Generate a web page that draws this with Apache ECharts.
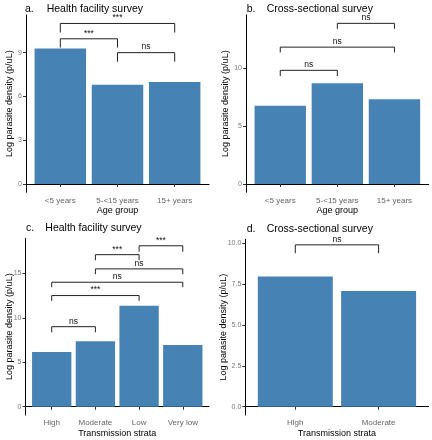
<!DOCTYPE html>
<html><head><meta charset="utf-8">
<script src="https://cdn.jsdelivr.net/npm/echarts@6/dist/echarts.min.js"></script>
<style>html,body{margin:0;padding:0;background:#fff}#c{width:432px;height:440px}</style>
</head><body><div id="c"></div><script>
const ageGroups = ['<5 years', '5-<15 years', '15+ years'];
const strata = ['High', 'Moderate', 'Low', 'Very low'];
const strataD = ['High', 'Moderate'];
const valuesA = [9.28, 6.80, 6.99];
const valuesB = [6.75, 8.68, 7.30];
const valuesC = [6.15, 7.35, 11.35, 6.93];
const valuesD = [7.96, 7.08];
const ticksA = [0, 3, 6, 9];
const ticksB = [0, 5, 10];
const ticksC = [0, 5, 10, 15];
const ticksD = [0, 2.5, 5, 7.5, 10];
// brackets: [from category (1-based), to category, height, tip length, label]
const bracketsA = [[1, 3, 11.0, 0.62, '***'], [1, 2, 9.95, 0.6, '***'], [2, 3, 9.0, 0.62, 'ns']];
const bracketsB = [[2, 3, 13.85, 0.47, 'ns'], [1, 3, 11.8, 0.46, 'ns'], [1, 2, 9.8, 0.49, 'ns']];
const bracketsC = [[3, 4, 18.1, 0.67, '***'], [2, 3, 17.1, 0.63, '***'], [2, 4, 15.5, 0.6, 'ns'], [1, 4, 14.0, 0.56, 'ns'], [1, 3, 12.5, 0.6, '***'], [1, 2, 9.0, 0.63, 'ns']];
const bracketsD = [[1, 2, 9.9, 0.51, 'ns']];

const FONT = 'Liberation Sans, Arial, Helvetica, sans-serif';
const panels = [
  {cats: ageGroups, vals: valuesA, ticks: ticksA, br: bracketsA, grid: {left: 26, top: 15, width: 183, height: 177.3}, ymin: -0.57, ymax: 11.58, xname: 'Age group', tag: 'a.', title: 'Health facility survey', tagX: 25, titleX: 46.7, titleY: 9, nameGap: 11.7, fmt: v => String(v)},
  {cats: ageGroups, vals: valuesB, ticks: ticksB, br: bracketsB, grid: {left: 246, top: 15, width: 182.7, height: 177.3}, ymin: -0.716, ymax: 14.57, xname: 'Age group', tag: 'b.', title: 'Cross-sectional survey', tagX: 246.7, titleX: 266.7, titleY: 9, nameGap: 15.7, fmt: v => String(v)},
  {cats: strata, vals: valuesC, ticks: ticksC, br: bracketsC, grid: {left: 25.5, top: 238.3, width: 183.5, height: 176.7}, ymin: -0.933, ymax: 18.94, xname: 'Transmission strata', tag: 'c.', title: 'Health facility survey', tagX: 26, titleX: 45.3, titleY: 228, nameGap: 11.2, fmt: v => String(v)},
  {cats: strataD, vals: valuesD, ticks: ticksD, br: bracketsD, grid: {left: 245.3, top: 239.3, width: 183.3, height: 175.7}, ymin: -0.508, ymax: 10.24, xname: 'Transmission strata', tag: 'd.', title: 'Cross-sectional survey', tagX: 246.7, titleX: 266.7, titleY: 228.7, nameGap: 17.6, fmt: v => v.toFixed(1)}
];

const axisLine = {show: true, lineStyle: {color: '#000', width: 1}};
const option = {
  animation: false,
  textStyle: {fontFamily: FONT},
  grid: [], xAxis: [], yAxis: [], series: [], graphic: []
};
panels.forEach((p, i) => {
  const idx = p.cats.map((_, k) => k + 1);
  option.grid.push(Object.assign({containLabel: false}, p.grid));
  option.xAxis.push({
    type: 'value', gridIndex: i, min: 0.4, max: p.cats.length + 0.6,
    splitLine: {show: false}, axisLine: axisLine,
    axisTick: {show: true, length: 3, customValues: idx, lineStyle: {color: '#333'}},
    axisLabel: {customValues: idx, formatter: v => p.cats[Math.round(v) - 1], fontSize: 8, color: '#666', margin: 4, fontFamily: FONT},
    name: p.xname, nameLocation: 'middle', nameGap: 14, nameMoveOverlap: false,
    nameTextStyle: {fontSize: 9, color: '#000', fontFamily: FONT}
  });
  option.yAxis.push({
    type: 'value', gridIndex: i, min: p.ymin, max: p.ymax,
    splitLine: {show: false}, axisLine: axisLine,
    axisTick: {show: true, length: 3, customValues: p.ticks, lineStyle: {color: '#333'}},
    axisLabel: {customValues: p.ticks, formatter: p.fmt, fontSize: 7, color: '#777', margin: 4, fontFamily: FONT},
    name: 'Log parasite density (p/uL)', nameLocation: 'middle', nameGap: p.nameGap, nameMoveOverlap: false,
    nameTextStyle: {fontSize: 9, color: '#000', fontFamily: FONT}
  });
  option.series.push({
    type: 'bar', xAxisIndex: i, yAxisIndex: i, barWidth: '90%',
    data: p.vals.map((v, k) => [k + 1, v]),
    itemStyle: {color: '#4682B4'}, silent: true
  });
  option.series.push({
    type: 'custom', xAxisIndex: i, yAxisIndex: i, silent: true, clip: false,
    data: p.br.map(b => [b[0], b[1], b[2], b[3]]),
    encode: {x: [0, 1], y: 2},
    renderItem: (params, api) => {
      const x1 = api.value(0), x2 = api.value(1), y = api.value(2), tip = api.value(3);
      const a = api.coord([x1, y - tip]), b = api.coord([x1, y]), c = api.coord([x2, y]), d = api.coord([x2, y - tip]);
      return {type: 'group', children: [
        {type: 'polyline', shape: {points: [a, b, c, d]}, style: {stroke: '#222', lineWidth: 1, fill: null}},
        {type: 'text', x: (b[0] + c[0]) / 2, y: b[1] - 1, style: {text: p.br[params.dataIndex][4], fontSize: 8.5, fontFamily: FONT, fill: '#111', align: 'center', verticalAlign: 'bottom'}}
      ]};
    }
  });
  option.graphic.push({type: 'text', x: p.tagX, y: p.titleY, style: {text: p.tag, fontSize: 10.5, fontFamily: FONT, fill: '#000', verticalAlign: 'middle'}});
  option.graphic.push({type: 'text', x: p.titleX, y: p.titleY, style: {text: p.title, fontSize: 10.5, fontFamily: FONT, fill: '#000', verticalAlign: 'middle'}});
});
const chart = echarts.init(document.getElementById('c'), null, {renderer: 'canvas'});
chart.setOption(option);
</script></body></html>
